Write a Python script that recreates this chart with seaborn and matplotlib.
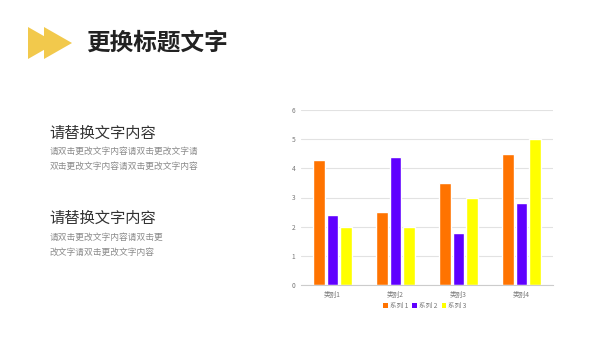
import matplotlib
matplotlib.use("Agg")
import matplotlib.pyplot as plt
import seaborn as sns
import pandas as pd
from matplotlib.patches import Polygon, Patch

categories = ["类别1", "类别2", "类别3", "类别4"]
series_names = ["系列 1", "系列 2", "系列 3"]
series1 = [4.3, 2.5, 3.5, 4.5]
series2 = [2.4, 4.4, 1.8, 2.8]
series3 = [2.0, 2.0, 3.0, 5.0]
y_ticks = [0, 1, 2, 3, 4, 5, 6]
colors = ["#FF7300", "#5F00FF", "#FFFF00"]

rows = []
for name, vals in zip(series_names, [series1, series2, series3]):
    for c, v in zip(categories, vals):
        rows.append({"category": c, "series": name, "value": v})
df = pd.DataFrame(rows)

sns.set_theme(style="white")
plt.rcParams["font.family"] = ["Noto Sans CJK SC", "DejaVu Sans"]

W, H = 600, 338
fig = plt.figure(figsize=(6, 3.38), dpi=100)
fig.patch.set_facecolor("white")

# decorative double arrow
arrow_col = "#F2C94C"
for x0 in (28, 44):
    pts = [(x0 / W, 1 - 27 / H), (x0 / W, 1 - 59 / H), ((x0 + 28) / W, 1 - 43 / H)]
    fig.patches.append(Polygon(pts, closed=True, transform=fig.transFigure,
                               facecolor=arrow_col, edgecolor="none"))

fig.text(86 / W, 1 - 43 / H, "更换标题文字", fontsize=17, fontweight="bold",
         color="#222222", va="center", ha="left")

# left text blocks
fig.text(49 / W, 1 - 133 / H, "请替换文字内容", fontsize=11, color="#333333", va="center")
fig.text(50 / W, 1 - 151 / H, "请双击更改文字内容请双击更改文字请", fontsize=6.3, color="#8a8a8a", va="center")
fig.text(50 / W, 1 - 166 / H, "双击更改文字内容请双击更改文字内容", fontsize=6.3, color="#8a8a8a", va="center")
fig.text(49 / W, 1 - 218 / H, "请替换文字内容", fontsize=11, color="#333333", va="center")
fig.text(50 / W, 1 - 237 / H, "请双击更改文字内容请双击更", fontsize=6.3, color="#8a8a8a", va="center")
fig.text(50 / W, 1 - 252 / H, "改文字请双击更改文字内容", fontsize=6.3, color="#8a8a8a", va="center")

ax = fig.add_axes([301 / W, 1 - 285 / H, 252 / W, 175 / H])
sns.barplot(data=df, x="category", y="value", hue="series", palette=colors,
            order=categories, hue_order=series_names, width=0.64, gap=0.15,
            saturation=1, ax=ax, legend=False, errorbar=None)
ax.set_ylim(0, 6)
ax.set_yticks(y_ticks)
ax.set_xlim(-0.5, 3.5)
ax.set_xlabel("")
ax.set_ylabel("")
ax.grid(axis="y", color="#e2e2e2", linewidth=0.8)
ax.set_axisbelow(True)
for s in ["top", "right", "left"]:
    ax.spines[s].set_visible(False)
ax.spines["bottom"].set_color("#cccccc")
ax.spines["bottom"].set_linewidth(0.8)
ax.tick_params(axis="both", labelsize=4.8, colors="#777777", length=0, pad=4)

handles = [Patch(facecolor=c, edgecolor="none") for c in colors]
fig.legend(handles, series_names, loc="center", bbox_to_anchor=(425 / W, 1 - 306 / H),
           ncol=3, frameon=False, fontsize=4.8, handlelength=0.7, handleheight=0.7,
           handletextpad=0.3, columnspacing=0.6, labelcolor="#777777")

fig.savefig("out.png", dpi=100, facecolor="white")
